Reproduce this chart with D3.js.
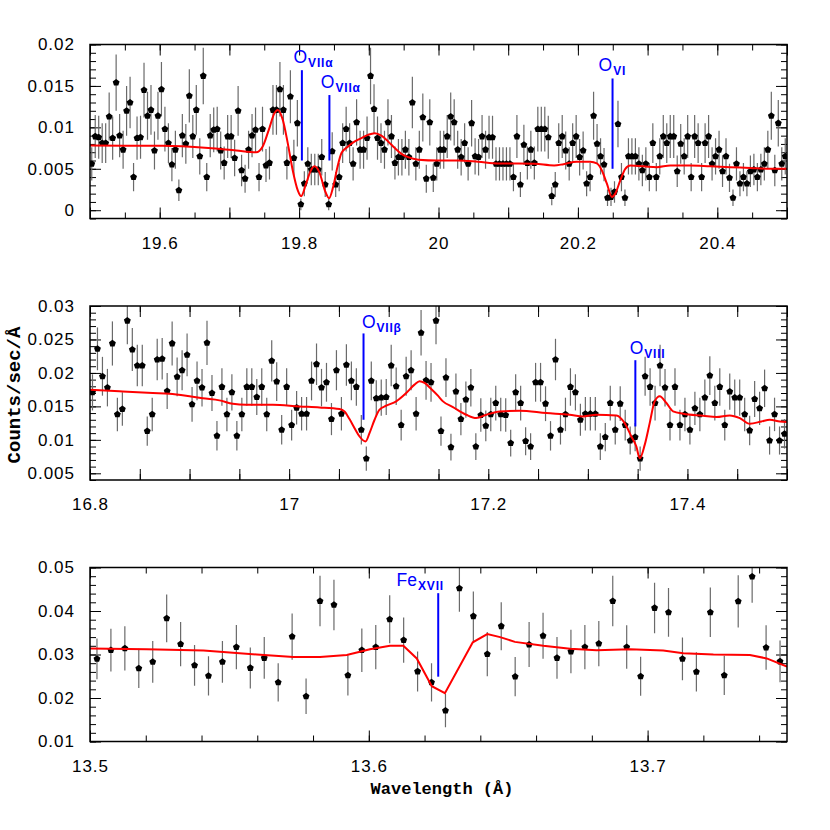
<!DOCTYPE html>
<meta charset="utf-8">
<style>
body { margin: 0; background: #fff; }
text { font-family: "Liberation Sans", Arial, sans-serif; }
.tick text { font-size: 17px; letter-spacing: 1px; fill: #000; }
.tick line { stroke: #000; stroke-width: 1px; }
.frame { fill: none; stroke: #000; stroke-width: 1.5px; }
.err line { stroke: #6a6a6a; stroke-width: 1.2px; }
.model { fill: none; stroke: #f00; stroke-width: 2px; }
.ion line { stroke: #00f; stroke-width: 2px; }
.ion text { fill: #00f; }
.title { font-family: "Liberation Mono", "DejaVu Sans Mono", monospace; font-weight: bold; fill: #000; }
</style>
<body>
<svg width="830" height="830"></svg>
<script src="https://d3js.org/d3.v7.min.js"></script>
<script>

// ---- data (counts/sec/A), bins are 0.005 A wide ----
var binWidth = 0.005;

// panel 1 : 19.5 - 20.5 A
var binStart1 = 19.5025;
var flux1 = [
  0.0056,0.0089,0.0088,0.0081,0.0081,0.0113,0.0087,0.0154,0.0090,0.0073,
  0.0120,0.0130,0.0040,0.0087,0.0088,0.0145,0.0114,0.0121,0.0072,0.0114,
  0.0146,0.0098,0.0081,0.0055,0.0073,0.0024,0.0090,0.0080,0.0138,0.0089,
  0.0121,0.0065,0.0162,0.0040,0.0090,0.0097,0.0098,0.0072,0.0057,0.0089,
  0.0089,0.0063,0.0120,0.0048,0.0038,0.0073,0.0090,0.0097,0.0040,0.0098,
  0.0054,0.0057,0.0121,0.0121,0.0146,0.0121,0.0057,0.0137,0.0063,0.0105,
  0.0007,0.0032,0.0056,0.0049,0.0049,0.0049,0.0064,0.0031,0.0007,0.0071,
  0.0031,0.0040,0.0081,0.0098,0.0081,0.0056,0.0106,0.0073,0.0073,0.0087,
  0.0162,0.0122,0.0087,0.0081,0.0073,0.0106,0.0089,0.0057,0.0064,0.0064,
  0.0073,0.0064,0.0130,0.0056,0.0073,0.0112,0.0038,0.0106,0.0039,0.0056,
  0.0073,0.0073,0.0089,0.0113,0.0106,0.0073,0.0064,0.0081,0.0056,0.0105,
  0.0065,0.0064,0.0089,0.0073,0.0088,0.0088,0.0056,0.0056,0.0056,0.0056,
  0.0056,0.0040,0.0089,0.0031,0.0079,0.0057,0.0073,0.0057,0.0098,0.0098,
  0.0098,0.0088,0.0017,0.0031,0.0081,0.0089,0.0072,0.0056,0.0081,0.0089,
  0.0064,0.0072,0.0032,0.0040,0.0114,0.0080,0.0065,0.0055,0.0015,0.0016,
  0.0022,0.0104,0.0040,0.0015,0.0065,0.0065,0.0065,0.0056,0.0048,0.0056,
  0.0040,0.0081,0.0040,0.0065,0.0089,0.0081,0.0089,0.0089,0.0047,0.0080,
  0.0065,0.0089,0.0040,0.0089,0.0081,0.0040,0.0081,0.0089,0.0056,0.0065,
  0.0073,0.0047,0.0065,0.0039,0.0015,0.0056,0.0032,0.0040,0.0032,0.0047,
  0.0049,0.0040,0.0049,0.0056,0.0073,0.0114,0.0048,0.0105,0.0056,0.0065
];
// 1-sigma errors, units of 1e-4
var err1 = [
  20,26,26,24,24,29,26,34,26,23, 30,31,17,26,26,33,29,30,23,29,
  33,27,24,20,23,13,26,24,32,26, 30,22,34,17,26,27,27,23,20,26,
  26,22,30,19,17,23,26,27,17,27, 20,20,30,30,33,30,20,32,22,28,
  7,15,20,19,19,19,22,15,7,23,   15,17,24,27,24,20,28,23,23,26,
  34,30,26,24,23,28,26,20,22,22, 23,22,31,20,23,29,17,28,17,20,
  23,23,26,29,28,23,22,24,20,28, 22,22,26,23,26,26,20,20,20,20,
  20,17,26,15,24,20,23,20,27,27, 27,26,11,15,24,26,23,20,24,26,
  22,23,15,17,29,24,22,20,10,11, 13,28,17,10,22,22,22,20,19,20,
  17,24,17,22,26,24,26,26,19,24, 22,26,17,26,24,17,24,26,20,22,
  23,19,22,17,10,20,15,17,15,19, 19,17,19,20,23,29,19,28,20,22
];
var modelWave1 = [19.5,19.604,19.67,19.71,19.7383,19.7478,19.7565,19.7646,19.7694,19.7766,19.7837,19.7909,19.7981,19.8029,19.81,19.8158,19.822,19.829,19.8378,19.843,19.8488,19.855,19.8608,19.8703,19.8799,19.8894,19.899,19.9086,19.9181,19.9277,19.9373,19.9468,19.9564,19.9708,19.9995,20.0282,20.0569,20.0856,20.1143,20.1383,20.166,20.1794,20.1985,20.2177,20.2272,20.2344,20.2416,20.2488,20.2536,20.2608,20.268,20.2751,20.2943,20.3134,20.3325,20.3612,20.39,20.4187,20.4474,20.4761,20.5];
var modelFlux1 = [0.0078,0.00778,0.0075,0.0072,0.0070,0.0077,0.0097,0.0117,0.0121,0.0109,0.0081,0.0048,0.0024,0.0017,0.0032,0.0046,0.0053,0.0046,0.0022,0.00145,0.0028,0.0052,0.0069,0.0077,0.0083,0.0087,0.0091,0.0093,0.0090,0.0083,0.0075,0.0068,0.0064,0.0061,0.0060,0.0060,0.00585,0.00565,0.00565,0.0056,0.0054,0.00556,0.00585,0.00585,0.00565,0.0048,0.0032,0.0016,0.0020,0.0036,0.0050,0.0054,0.0053,0.0052,0.0054,0.0054,0.0053,0.0052,0.0051,0.0050,0.0050];

// panel 2 : 16.8 - 17.5 A
var binStart2 = 16.8025;
var flux2 = [
  0.0171,0.0236,0.0195,0.0178,0.0244,0.0138,0.0146,0.0278,0.0235,0.0211,
  0.0211,0.0113,0.0138,0.0220,0.0221,0.0173,0.0244,0.0194,0.0204,0.0227,
  0.0153,0.0188,0.0178,0.0245,0.0170,0.0106,0.0179,0.0138,0.0171,0.0106,
  0.0138,0.0179,0.0179,0.0164,0.0179,0.0138,0.0218,0.0187,0.0115,0.0179,
  0.0122,0.0148,0.0139,0.0139,0.0188,0.0213,0.0178,0.0186,0.0131,0.0204,
  0.0139,0.0212,0.0188,0.0179,0.0115,0.0072,0.0188,0.0162,0.0163,0.0164,
  0.0211,0.0180,0.0122,0.0195,0.0204,0.0139,0.0260,0.0189,0.0186,0.0278,
  0.0113,0.0193,0.0089,0.0172,0.0131,0.0160,0.0178,0.0090,0.0137,0.0121,
  0.0138,0.0155,0.0138,0.0137,0.0095,0.0171,0.0155,0.0098,0.0090,0.0186,
  0.0186,0.0154,0.0106,0.0220,0.0115,0.0138,0.0179,0.0171,0.0130,0.0139,
  0.0139,0.0139,0.0090,0.0104,0.0155,0.0115,0.0154,0.0122,0.0099,0.0104,
  0.0072,0.0195,0.0179,0.0155,0.0211,0.0178,0.0122,0.0179,0.0122,0.0138,
  0.0115,0.0147,0.0138,0.0163,0.0196,0.0155,0.0179,0.0122,0.0172,0.0163,
  0.0163,0.0138,0.0114,0.0161,0.0147,0.0177,0.0099,0.0138,0.0099,0.0109
];
var err2 = [
  27,32,29,28,33,25,25,35,32,31, 31,22,25,31,31,27,33,29,30,32,
  26,29,28,33,27,22,28,25,27,22, 25,28,28,27,28,25,31,29,22,28,
  23,25,25,25,29,31,28,29,24,30, 25,31,29,28,22,18,29,27,27,27,
  31,28,23,29,30,25,34,29,29,35, 22,29,20,27,24,27,28,20,25,23,
  25,26,25,25,20,27,26,21,20,29, 29,26,22,31,22,25,28,27,24,25,
  25,25,20,21,26,22,26,23,21,21, 18,29,28,26,31,28,23,28,23,25,
  22,25,25,27,29,26,28,23,27,27, 27,25,22,27,25,28,21,25,21,22
];
var modelWave2 = [16.8,16.8295,16.863,16.8797,16.8965,16.9132,16.93,16.9434,16.9568,16.9836,17.0104,17.0305,17.0506,17.0556,17.0606,17.0657,17.0707,17.0767,17.0807,17.0858,17.0908,17.0975,17.1075,17.1176,17.1259,17.131,17.136,17.1427,17.1494,17.1545,17.1645,17.1779,17.1879,17.198,17.2114,17.2315,17.2583,17.2817,17.2952,17.3085,17.3286,17.337,17.3437,17.3487,17.3521,17.3571,17.3621,17.3671,17.3722,17.3789,17.3856,17.3957,17.4158,17.4291,17.4425,17.4526,17.4626,17.4744,17.4827,17.4928,17.5];
var modelFlux2 = [0.0175,0.01725,0.0170,0.0169,0.0166,0.0162,0.0159,0.0154,0.01525,0.01525,0.0150,0.01485,0.0146,0.01425,0.0131,0.01175,0.0105,0.00975,0.0110,0.0130,0.0145,0.0151,0.01575,0.0170,0.01825,0.01875,0.0185,0.0176,0.0166,0.01575,0.0149,0.01375,0.01325,0.01375,0.01425,0.01435,0.0140,0.01375,0.0135,0.01375,0.01365,0.0125,0.0105,0.0090,0.00725,0.00925,0.0125,0.01575,0.0165,0.0155,0.01425,0.0139,0.0136,0.0134,0.01365,0.01325,0.0124,0.01275,0.0130,0.01275,0.01265];

// panel 3 : 13.5 - 13.75 A
var binStart3 = 13.5025;
var flux3 = [
  0.0290,0.0310,0.0314,0.0268,0.0283,0.0383,0.0324,0.0275,0.0251,0.0283,
  0.0317,0.0269,0.0292,0.0236,0.0341,0.0204,0.0423,0.0414,0.0252,0.0310,
  0.0317,0.0381,0.0333,0.0261,0.0236,0.0171,0.0452,0.0388,0.0301,0.0365,
  0.0249,0.0323,0.0343,0.0292,0.0307,0.0317,0.0325,0.0423,0.0317,0.0250,
  0.0407,0.0397,0.0290,0.0260,0.0397,0.0252,0.0422,0.0479,0.0316,0.0284
];
var err3 = [
  47,49,51,45,48,55,51,47,45,48, 51,47,48,44,53,41,58,58,46,50,
  51,55,52,46,44,38,54,57,51,55, 45,52,53,48,50,51,52,58,50,45,
  58,56,49,45,57,45,60,60,51,48
];
var modelWave3 = [13.5,13.5203,13.5407,13.5598,13.5729,13.5825,13.5921,13.6004,13.6076,13.6124,13.6172,13.6226,13.6273,13.6373,13.6425,13.6471,13.6524,13.6626,13.6722,13.6817,13.6937,13.7056,13.7128,13.7236,13.7367,13.7427,13.75];
var modelFlux3 = [0.0314,0.0312,0.0309,0.0300,0.0294,0.0294,0.0299,0.0312,0.0320,0.0320,0.0291,0.0227,0.0211,0.0328,0.0347,0.0340,0.0329,0.0320,0.0313,0.0310,0.0312,0.0309,0.0303,0.0300,0.0299,0.0291,0.0272];

// tick labels
var xLabels1 = [19.6, 19.8, 20, 20.2, 20.4];
var xLabels2 = [16.8, 17, 17.2, 17.4];
var xLabels3 = [13.5, 13.6, 13.7];
var yLabels1 = [0, 0.005, 0.01, 0.015, 0.02];
var yLabels2 = [0.005, 0.01, 0.015, 0.02, 0.025, 0.03];
var yLabels3 = [0.01, 0.02, 0.03, 0.04, 0.05];

// absorption line markers
var ionPanel  = [0, 0, 0, 1, 1, 2];
var ionName   = ["O", "O", "O", "O", "O", "Fe"];
var ionStage  = ["VIIα", "VIIα", "VI", "VIIβ", "VIII", "XVII"];
var ionWave   = [19.804, 19.8435, 20.2497, 17.0747, 17.3477, 13.6249];
var ionTop    = [0.0169, 0.0139, 0.0159, 0.0259, 0.0219, 0.0441];
var ionBottom = [0.0060, 0.0060, 0.0050, 0.0130, 0.0120, 0.0249];

// ---- layout ----
var svg = d3.select("svg");
var left = 90, right = 787, panelH = 174;
var panelTop = [44.5, 306, 567.5];
var ionLabelDx = [-8.4, -8.6, -14, -1.6, -5.7, -41.6];
var ionLabelDy = [-7.3, -6.7, -7.6, -5.6, -6, -7.3];

var panels = [
  {start: binStart1, flux: flux1, err: err1, mw: modelWave1, mf: modelFlux1,
   xDomain: [19.5, 20.5], yDomain: [-0.001, 0.02], xMinor: 0.05, xMajor: 0.1,
   yMinor: 0.001, yMajor: 0.005, xLabels: xLabels1, yLabels: yLabels1, curve: d3.curveMonotoneX},
  {start: binStart2, flux: flux2, err: err2, mw: modelWave2, mf: modelFlux2,
   xDomain: [16.8, 17.5], yDomain: [0.004, 0.03], xMinor: 0.05, xMajor: 0.05,
   yMinor: 0.001, yMajor: 0.005, xLabels: xLabels2, yLabels: yLabels2, curve: d3.curveMonotoneX},
  {start: binStart3, flux: flux3, err: err3, mw: modelWave3, mf: modelFlux3,
   xDomain: [13.5, 13.75], yDomain: [0.01, 0.05], xMinor: 0.02, xMajor: 0.1,
   yMinor: 0.002, yMajor: 0.01, xLabels: xLabels3, yLabels: yLabels3, curve: d3.curveLinear}
];

var minorLen = 6, majorLen = 11;

function steps(dom, step) {
  var a = Math.ceil(dom[0] / step - 1e-6), b = Math.floor(dom[1] / step + 1e-6);
  return d3.range(a, b + 1).map(function(k) { return +(k * step).toFixed(6); });
}
function fmt(d) { return String(+d.toFixed(4)); }
function hasLabel(list) {
  return function(d) {
    return list.some(function(v) { return Math.abs(v - d) < 1e-9; }) ? fmt(d) : "";
  };
}

var pentagon = {
  draw: function(context, size) {
    var r = Math.sqrt(size / 2.378);
    for (var i = 0; i < 5; i++) {
      var a = -Math.PI / 2 + i * 2 * Math.PI / 5;
      if (i === 0) context.moveTo(r * Math.cos(a), r * Math.sin(a));
      else context.lineTo(r * Math.cos(a), r * Math.sin(a));
    }
    context.closePath();
  }
};
var symbol = d3.symbol().type(pentagon).size(31);

panels.forEach(function(p, k) {
  var top = panelTop[k], bottom = top + panelH;
  var x = d3.scaleLinear().domain(p.xDomain).range([left, right]);
  var y = d3.scaleLinear().domain(p.yDomain).range([bottom, top]);

  svg.append("clipPath").attr("id", "clip" + k)
    .append("rect")
      .attr("x", left).attr("y", top)
      .attr("width", right - left).attr("height", panelH);

  var g = svg.append("g");

  // ticks, all pointing inward
  var xMin = steps(p.xDomain, p.xMinor), xMaj = steps(p.xDomain, p.xMajor);
  var yMin = steps(p.yDomain, p.yMinor), yMaj = steps(p.yDomain, p.yMajor);

  g.append("g").attr("transform", "translate(0," + bottom + ")")
    .call(d3.axisBottom(x).tickValues(xMin).tickSize(-minorLen).tickFormat(""));
  g.append("g").attr("transform", "translate(0," + top + ")")
    .call(d3.axisTop(x).tickValues(xMin).tickSize(-minorLen).tickFormat(""));
  g.append("g").attr("transform", "translate(0," + bottom + ")")
    .call(d3.axisBottom(x).tickValues(xMaj).tickSize(-majorLen).tickPadding(18)
      .tickFormat(hasLabel(p.xLabels)));
  g.append("g").attr("transform", "translate(0," + top + ")")
    .call(d3.axisTop(x).tickValues(xMaj).tickSize(-majorLen).tickFormat(""));

  g.append("g").attr("transform", "translate(" + left + ",0)")
    .call(d3.axisLeft(y).tickValues(yMin).tickSize(-minorLen).tickFormat(""));
  g.append("g").attr("transform", "translate(" + right + ",0)")
    .call(d3.axisRight(y).tickValues(yMin).tickSize(-minorLen).tickFormat(""));
  g.append("g").attr("transform", "translate(" + left + ",0)")
    .call(d3.axisLeft(y).tickValues(yMaj).tickSize(-majorLen).tickPadding(15)
      .tickFormat(hasLabel(p.yLabels)));
  g.append("g").attr("transform", "translate(" + right + ",0)")
    .call(d3.axisRight(y).tickValues(yMaj).tickSize(-majorLen).tickFormat(""));

  g.selectAll(".domain").remove();

  var pts = p.flux.map(function(f, i) {
    return {w: p.start + i * binWidth, f: f, e: p.err[i] * 1e-4};
  });

  var plot = svg.append("g").attr("clip-path", "url(#clip" + k + ")");

  plot.append("g").attr("class", "err")
    .selectAll("line")
    .data(pts)
    .enter().append("line")
      .attr("x1", function(d) { return x(d.w); })
      .attr("x2", function(d) { return x(d.w); })
      .attr("y1", function(d) { return y(d.f - d.e); })
      .attr("y2", function(d) { return y(d.f + d.e); });

  plot.append("g")
    .selectAll("path")
    .data(pts)
    .enter().append("path")
      .attr("d", symbol)
      .attr("fill", "#000")
      .attr("transform", function(d) { return "translate(" + x(d.w) + "," + y(d.f) + ")"; });

  var line = d3.line()
      .x(function(d) { return x(d[0]); })
      .y(function(d) { return y(d[1]); })
      .curve(p.curve);

  plot.append("path")
    .attr("class", "model")
    .attr("d", line(p.mw.map(function(w, i) { return [w, p.mf[i]]; })));

  // line identifications
  ionPanel.forEach(function(pi, j) {
    if (pi !== k) return;
    var ion = svg.append("g").attr("class", "ion");
    var lx = x(ionWave[j]);
    ion.append("line")
      .attr("x1", lx).attr("x2", lx)
      .attr("y1", y(ionTop[j])).attr("y2", y(ionBottom[j]));
    var t = ion.append("text")
      .attr("x", lx + ionLabelDx[j])
      .attr("y", y(ionTop[j]) + ionLabelDy[j]);
    t.append("tspan").attr("font-size", "17.5px").text(ionName[j]);
    t.append("tspan").attr("font-size", "12px").attr("font-weight", "bold")
      .attr("dy", 4).attr("dx", 1).style("letter-spacing", "0.8px").text(ionStage[j]);
  });

  svg.append("rect").attr("class", "frame")
    .attr("x", left).attr("y", top)
    .attr("width", right - left).attr("height", panelH);
});

svg.append("text")
  .attr("class", "title")
  .attr("x", 442).attr("y", 794)
  .attr("text-anchor", "middle")
  .attr("font-size", "17px")
  .text("Wavelength (Å)");

svg.append("text")
  .attr("class", "title")
  .attr("transform", "translate(20,395) rotate(-90)")
  .attr("text-anchor", "middle")
  .attr("font-size", "19px")
  .text("Counts/sec/Å");

</script>
